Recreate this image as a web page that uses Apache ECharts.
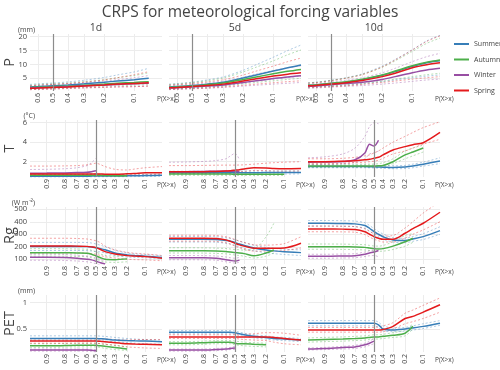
<!DOCTYPE html>
<html><head><meta charset="utf-8">
<script src="https://cdn.jsdelivr.net/npm/echarts@6/dist/echarts.min.js"></script>
<style>html,body{margin:0;padding:0;background:#fff}#c{width:500px;height:370px}</style>
</head><body><div id="c"></div><script>
const seasons = ['Summer','Autumn','Winter','Spring'];
const seasonColors = ['#377eb8','#4daf4a','#984ea3','#e41a1c'];
const leads = ['1d','5d','10d'];
const varNames = ['P','T','Rg','PET'];
const varUnits = ['(mm)','(°C)','(W m\u207B\u00B2)','(mm)'];
const chartTitle = 'CRPS for meteorological forcing variables';

// exceedance probabilities P(X>x)
const pGridP = [0.65,0.6,0.5,0.4,0.3,0.2,0.15,0.1,0.07,0.05];
const pGrid  = [0.95,0.9,0.8,0.7,0.6,0.55,0.5,0.45,0.4,0.3,0.2,0.15,0.1,0.05];
const xTicksP = [0.6,0.5,0.4,0.3,0.2,0.1];
const xTicks  = [0.9,0.8,0.7,0.6,0.5,0.4,0.3,0.2,0.1];
const pStartP = 0.65, pStart = 0.95, pEnd = 0.05, pRef = 0.5;

const yTicksP = [5,10,15,20], yRangeP = [0.42,20.97];
const yTicksT = [2,4,6], yRangeT = [0.43,6.28];
const yTicksRg = [100,200,300,400,500], yRangeRg = [62,518];
const yTicksPET = [0.5,1], yRangePET = [0.063,1.146];

const _ = '-';
// order in each: Summer, Autumn, Winter, Spring
const P_1d_mid = [[1.9,2.0,2.3,2.6,3.0,3.6,4.0,4.5,5.0,_],[1.7,1.8,2.0,2.2,2.5,2.9,3.2,3.5,3.8,_],[1.5,1.6,1.8,2.0,2.3,2.6,2.8,3.0,3.2,_],[1.4,1.5,1.7,1.9,2.2,2.6,2.9,3.1,3.4,_]];
const P_1d_hi  = [[2.8,3.0,3.3,3.7,4.3,5.3,6.2,7.3,8.6,_],[2.5,2.7,3.0,3.3,3.8,4.5,5.2,6.0,7.0,_],[2.3,2.4,2.7,3.0,3.4,4.0,4.5,5.2,6.0,_],[2.3,2.5,2.8,3.1,3.6,4.4,5.2,6.3,7.4,_]];
const P_1d_lo  = [[1.3,1.4,1.6,1.8,2.1,2.5,2.8,3.1,3.5,_],[1.1,1.2,1.4,1.6,1.8,2.1,2.3,2.5,2.7,_],[0.9,1.0,1.2,1.4,1.6,1.8,1.9,2.0,2.2,_],[0.9,1.0,1.1,1.3,1.5,1.7,1.9,2.0,2.2,_]];
const P_5d_mid = [[1.9,2.0,2.4,2.9,3.6,5.1,6.2,7.6,8.8,9.8],[1.8,1.9,2.2,2.7,3.3,4.6,5.5,6.6,7.5,8.2],[1.5,1.6,1.9,2.2,2.6,3.5,4.1,4.9,5.5,5.9],[1.6,1.7,2.0,2.4,2.9,4.0,4.8,5.8,6.5,7.0]];
const P_5d_hi  = [[2.9,3.1,3.6,4.4,5.5,7.9,9.9,12.6,15.0,17.0],[2.7,2.9,3.4,4.1,5.1,7.3,9.0,11.3,13.5,15.2],[2.3,2.5,2.8,3.3,4.0,5.4,6.5,7.8,8.8,9.5],[2.5,2.7,3.1,3.7,4.5,6.2,7.6,9.4,11.0,12.3]];
const P_5d_lo  = [[1.2,1.3,1.6,1.9,2.4,3.3,4.0,4.7,5.3,5.8],[1.1,1.2,1.5,1.8,2.2,3.0,3.5,4.1,4.6,5.0],[0.9,1.0,1.2,1.4,1.7,2.2,2.5,2.9,3.2,3.5],[1.0,1.1,1.3,1.5,1.9,2.5,2.9,3.4,3.8,4.1]];
const P_10d_mid = [[2.5,2.6,3.1,3.6,4.5,6.1,7.4,9.3,10.6,11.3],[2.5,2.6,3.2,3.8,4.7,6.2,7.6,9.5,10.8,11.6],[2.1,2.2,2.7,3.1,3.6,4.6,5.6,7.0,8.0,8.6],[2.3,2.4,2.9,3.4,4.2,5.6,6.8,8.8,9.9,10.6]];
const P_10d_hi  = [[3.4,3.6,4.3,5.2,6.6,9.4,11.8,15.3,18.5,20.5],[3.3,3.5,4.2,5.1,6.4,9.0,11.3,14.7,17.6,19.5],[2.9,3.1,3.7,4.3,5.2,7.0,8.6,11.0,12.8,14.0],[3.2,3.4,4.1,5.0,6.3,9.1,11.6,15.2,18.3,20.3]];
const P_10d_lo  = [[1.8,1.9,2.2,2.5,3.0,3.8,4.4,5.2,5.8,6.2],[1.8,1.9,2.3,2.7,3.2,4.0,4.7,5.6,6.3,6.8],[1.4,1.5,1.8,2.1,2.4,2.9,3.3,3.9,4.4,4.7],[1.6,1.7,2.0,2.3,2.8,3.5,4.0,4.7,5.2,5.6]];

const T_1d_mid = [[0.5,0.5,0.5,0.51,0.51,0.52,0.52,0.52,0.53,0.54,0.55,0.56,0.58,0.6],[0.6,0.6,0.6,0.6,0.6,0.6,0.6,0.6,0.59,0.57,0.56,_,_,_],[0.82,0.83,0.85,0.88,0.92,0.98,1.08,_,_,_,_,_,_,_],[0.75,0.75,0.75,0.75,0.75,0.75,0.74,0.73,0.72,0.72,0.76,0.8,0.86,0.87]];
const T_1d_hi  = [[0.6,0.6,0.6,0.61,0.61,0.62,0.62,0.62,0.63,0.65,0.66,0.68,0.7,0.75],[0.72,0.72,0.72,0.72,0.72,0.72,0.72,0.72,0.7,0.68,0.67,_,_,_],[1.2,1.22,1.28,1.38,1.6,1.9,2.35,_,_,_,_,_,_,_],[1.55,1.55,1.57,1.6,1.68,1.75,1.85,1.7,1.5,1.22,1.15,1.25,1.38,1.5]];
const T_1d_lo  = [[0.42,0.42,0.42,0.43,0.43,0.44,0.44,0.44,0.45,0.45,0.46,0.47,0.48,0.5],[0.5,0.5,0.5,0.5,0.5,0.5,0.5,0.5,0.49,0.48,0.47,_,_,_],[0.62,0.63,0.65,0.67,0.7,0.74,0.8,_,_,_,_,_,_,_],[0.58,0.58,0.58,0.58,0.58,0.58,0.57,0.56,0.55,0.55,0.57,0.6,0.65,0.67]];
const T_5d_mid = [[0.86,0.86,0.86,0.86,0.87,0.87,0.87,0.87,0.87,0.87,0.88,0.88,0.88,0.9],[0.73,0.73,0.73,0.73,0.73,0.73,0.72,0.72,0.72,0.72,0.72,0.72,0.72,_],[0.97,0.98,1.0,1.02,1.04,1.03,1.0,0.97,_,_,_,_,_,_],[0.97,0.97,0.98,1.0,1.04,1.08,1.13,1.18,1.25,1.38,1.35,1.3,1.28,1.3]];
const T_5d_hi  = [[1.02,1.02,1.02,1.02,1.03,1.03,1.03,1.03,1.03,1.03,1.04,1.04,1.04,1.05],[0.88,0.88,0.88,0.88,0.88,0.88,0.87,0.87,0.87,0.87,0.87,0.87,0.87,_],[1.94,1.97,2.03,2.12,2.3,2.6,2.86,2.2,_,_,_,_,_,_],[1.6,1.6,1.62,1.64,1.65,1.65,1.65,1.66,1.68,1.75,1.85,1.9,1.95,2.0]];
const T_5d_lo  = [[0.72,0.72,0.72,0.72,0.72,0.72,0.72,0.72,0.72,0.72,0.73,0.73,0.73,0.75],[0.6,0.6,0.6,0.6,0.6,0.6,0.59,0.59,0.59,0.59,0.59,0.59,0.59,_],[0.8,0.8,0.82,0.84,0.85,0.84,0.82,0.8,_,_,_,_,_,_],[0.8,0.8,0.8,0.82,0.85,0.88,0.92,0.96,1.0,1.1,1.08,1.05,1.03,1.05]];
const T_10d_mid = [[1.5,1.5,1.5,1.5,1.5,1.49,1.48,1.46,1.44,1.4,1.45,1.55,1.75,2.07],[1.56,1.56,1.56,1.56,1.56,1.56,1.56,1.58,1.62,2.0,2.7,3.0,3.4,_],[1.95,1.97,2.02,2.2,2.9,3.8,3.6,4.2,_,_,_,_,_,_],[2.0,2.0,2.05,2.1,2.2,2.25,2.35,2.45,2.7,3.2,3.55,3.75,3.95,5.0]];
const T_10d_hi  = [[1.65,1.65,1.65,1.65,1.65,1.64,1.63,1.62,1.6,1.58,1.62,1.75,1.95,2.4],[1.75,1.75,1.75,1.75,1.75,1.75,1.76,1.8,1.9,2.3,3.1,3.4,3.7,_],[2.4,2.5,2.8,3.4,4.6,5.6,6.0,5.9,_,_,_,_,_,_],[2.3,2.3,2.35,2.45,2.6,2.7,2.9,3.1,3.4,4.0,4.6,5.0,5.5,6.1]];
const T_10d_lo  = [[1.38,1.38,1.38,1.38,1.38,1.37,1.36,1.34,1.32,1.28,1.3,1.38,1.55,1.8],[1.42,1.42,1.42,1.42,1.42,1.42,1.42,1.43,1.45,1.8,2.3,2.6,3.0,_],[1.7,1.7,1.8,1.95,2.3,2.8,2.9,3.1,_,_,_,_,_,_],[1.8,1.8,1.85,1.9,1.95,2.0,2.05,2.15,2.35,2.8,3.1,3.4,3.8,4.3]];

const Rg_1d_mid = [[202,202,202,202,201,198,192,185,176,150,135,130,125,115],[153,153,152,150,148,140,126,112,100,97,103,_,_,_],[116,116,114,108,100,95,84,72,62,_,_,_,_,_],[206,206,206,205,203,199,193,178,161,142,129,125,121,108]];
const Rg_1d_hi  = [[235,235,235,235,234,230,222,212,200,172,150,143,138,128],[185,185,184,182,180,172,158,142,130,125,130,_,_,_],[140,140,138,132,125,120,110,98,88,_,_,_,_,_],[268,268,268,266,262,256,248,232,205,175,155,148,142,130]];
const Rg_1d_lo  = [[170,170,170,170,169,166,162,158,152,130,118,115,112,102],[125,125,124,122,120,112,100,88,78,75,80,_,_,_],[92,92,90,86,80,74,64,55,45,_,_,_,_,_],[150,150,150,150,148,145,140,130,120,110,100,97,95,88]];
const Rg_5d_mid = [[260,260,260,258,250,245,233,222,210,190,174,167,160,153],[169,169,168,166,162,158,153,150,145,128,150,174,_,_],[113,113,112,108,96,90,86,93,_,_,_,_,_,_],[268,268,268,266,255,243,228,215,205,188,188,188,190,228]];
const Rg_5d_hi  = [[282,282,282,280,272,266,255,245,233,212,195,188,180,175],[192,192,191,189,186,182,178,176,172,180,280,388,_,_],[130,130,129,126,118,112,108,115,_,_,_,_,_,_],[292,292,292,290,280,270,258,245,235,215,213,215,225,280]];
const Rg_5d_lo  = [[238,238,238,236,228,222,212,200,188,168,152,145,138,130],[150,150,149,147,143,139,134,130,124,110,125,150,_,_],[96,96,95,92,80,74,70,76,_,_,_,_,_,_],[245,245,245,243,232,220,205,192,180,165,165,165,170,190]];
const Rg_10d_mid = [[388,388,386,383,370,348,321,300,280,254,250,262,281,329],[201,201,200,198,195,190,185,183,185,205,240,268,_,_],[124,124,126,128,140,150,158,170,_,_,_,_,_,_],[342,342,341,338,320,300,281,268,260,260,308,345,388,476]];
const Rg_10d_hi  = [[410,410,408,405,392,370,345,322,302,272,268,282,305,360],[222,222,221,219,216,211,206,205,210,240,290,305,_,_],[140,140,142,145,158,168,175,185,_,_,_,_,_,_],[365,365,364,361,343,323,305,292,285,290,350,400,470,560]];
const Rg_10d_lo  = [[366,366,364,361,348,326,300,280,260,238,232,244,258,300],[180,180,179,177,174,170,166,164,165,178,205,235,_,_],[108,108,110,112,122,128,130,120,_,_,_,_,_,_],[320,320,319,316,298,278,260,248,238,238,270,300,335,400]];

const PET_1d_mid = [[0.32,0.32,0.32,0.32,0.32,0.32,0.32,0.315,0.31,0.29,0.28,0.275,0.27,0.26],[0.18,0.18,0.185,0.19,0.19,0.19,0.19,0.18,0.17,0.15,0.12,_,_,_],[0.1,0.1,0.1,0.1,0.1,0.095,0.085,_,_,_,_,_,_,_],[0.27,0.27,0.27,0.27,0.27,0.27,0.27,0.265,0.26,0.24,0.22,0.215,0.21,0.2]];
const PET_1d_hi  = [[0.37,0.37,0.37,0.37,0.37,0.37,0.37,0.365,0.36,0.34,0.32,0.31,0.3,0.29],[0.22,0.22,0.225,0.23,0.23,0.23,0.23,0.22,0.21,0.19,0.16,_,_,_],[0.12,0.12,0.12,0.12,0.12,0.115,0.11,_,_,_,_,_,_,_],[0.31,0.31,0.31,0.31,0.31,0.31,0.31,0.31,0.31,0.3,0.29,0.3,0.3,0.3]];
const PET_1d_lo  = [[0.28,0.28,0.28,0.28,0.28,0.28,0.28,0.275,0.27,0.26,0.24,0.23,0.22,0.21],[0.15,0.15,0.155,0.16,0.16,0.16,0.16,0.15,0.13,0.11,0.09,_,_,_],[0.08,0.08,0.08,0.08,0.08,0.075,0.065,_,_,_,_,_,_,_],[0.23,0.23,0.23,0.23,0.23,0.23,0.23,0.22,0.21,0.19,0.16,0.15,0.14,0.13]];
const PET_5d_mid = [[0.44,0.44,0.44,0.44,0.44,0.44,0.43,0.41,0.39,0.36,0.34,0.32,0.31,0.29],[0.23,0.23,0.24,0.25,0.25,0.25,0.23,0.22,0.22,0.21,0.2,_,_,_],[0.1,0.1,0.1,0.11,0.12,0.13,0.14,_,_,_,_,_,_,_],[0.35,0.35,0.35,0.35,0.35,0.35,0.35,0.35,0.35,0.35,0.35,0.34,0.32,0.29]];
const PET_5d_hi  = [[0.47,0.47,0.47,0.47,0.47,0.47,0.46,0.44,0.42,0.39,0.37,0.35,0.34,0.32],[0.26,0.26,0.27,0.28,0.28,0.28,0.27,0.26,0.25,0.24,0.23,_,_,_],[0.12,0.12,0.12,0.13,0.14,0.15,0.17,_,_,_,_,_,_,_],[0.39,0.39,0.39,0.39,0.39,0.39,0.39,0.39,0.4,0.41,0.43,0.43,0.42,0.38]];
const PET_5d_lo  = [[0.41,0.41,0.41,0.41,0.41,0.41,0.4,0.38,0.36,0.33,0.31,0.29,0.28,0.26],[0.2,0.2,0.21,0.22,0.22,0.22,0.2,0.19,0.18,0.17,0.16,_,_,_],[0.08,0.08,0.08,0.09,0.1,0.11,0.11,_,_,_,_,_,_,_],[0.32,0.32,0.32,0.32,0.32,0.32,0.32,0.31,0.3,0.29,0.28,0.25,0.22,0.2]];
const PET_10d_mid = [[0.61,0.61,0.61,0.61,0.61,0.61,0.61,0.58,0.5,0.48,0.5,0.52,0.55,0.61],[0.29,0.3,0.31,0.32,0.33,0.34,0.35,0.35,0.36,0.38,0.42,0.55,_,_],[0.12,0.13,0.15,0.16,0.2,0.23,0.27,_,_,_,_,_,_,_],[0.48,0.48,0.48,0.48,0.48,0.48,0.48,0.48,0.49,0.55,0.7,0.74,0.82,0.96]];
const PET_10d_hi  = [[0.66,0.66,0.66,0.66,0.66,0.66,0.66,0.63,0.56,0.52,0.53,0.56,0.6,0.66],[0.33,0.34,0.35,0.36,0.37,0.38,0.39,0.39,0.4,0.43,0.48,0.6,_,_],[0.14,0.15,0.17,0.19,0.23,0.27,0.32,_,_,_,_,_,_,_],[0.53,0.53,0.53,0.53,0.53,0.53,0.53,0.54,0.56,0.62,0.8,0.86,0.95,1.09]];
const PET_10d_lo  = [[0.56,0.56,0.56,0.56,0.56,0.56,0.56,0.53,0.46,0.45,0.46,0.48,0.51,0.57],[0.25,0.26,0.27,0.28,0.29,0.3,0.31,0.31,0.32,0.34,0.37,0.5,_,_],[0.1,0.11,0.12,0.13,0.16,0.19,0.22,_,_,_,_,_,_,_],[0.44,0.44,0.44,0.44,0.44,0.44,0.44,0.44,0.45,0.5,0.6,0.64,0.7,0.82]];

// ---------- layout ----------
const colLeft = [30,169,308], plotW = 132;
const rowTop = [34,120,207,295], plotH = 57;
const textColor = '#444';
const FONT = 'Open Sans';

const xOf = p => Math.log((1 - p) / p);
const pOf = x => 1 / (1 + Math.exp(x));

const rows = [
  {p:pGridP, ticks:xTicksP, start:pStartP, yr:yRangeP, yt:yTicksP, panels:[[P_1d_mid,P_1d_lo,P_1d_hi],[P_5d_mid,P_5d_lo,P_5d_hi],[P_10d_mid,P_10d_lo,P_10d_hi]]},
  {p:pGrid, ticks:xTicks, start:pStart, yr:yRangeT, yt:yTicksT, panels:[[T_1d_mid,T_1d_lo,T_1d_hi],[T_5d_mid,T_5d_lo,T_5d_hi],[T_10d_mid,T_10d_lo,T_10d_hi]]},
  {p:pGrid, ticks:xTicks, start:pStart, yr:yRangeRg, yt:yTicksRg, panels:[[Rg_1d_mid,Rg_1d_lo,Rg_1d_hi],[Rg_5d_mid,Rg_5d_lo,Rg_5d_hi],[Rg_10d_mid,Rg_10d_lo,Rg_10d_hi]]},
  {p:pGrid, ticks:xTicks, start:pStart, yr:yRangePET, yt:yTicksPET, panels:[[PET_1d_mid,PET_1d_lo,PET_1d_hi],[PET_5d_mid,PET_5d_lo,PET_5d_hi],[PET_10d_mid,PET_10d_lo,PET_10d_hi]]}
];

const grid = [], xAxis = [], yAxis = [], series = [], graphic = [];
rows.forEach((row, r) => {
  leads.forEach((lead, c) => {
    const gi = r * 3 + c;
    grid.push({left: colLeft[c], top: rowTop[r], width: plotW, height: plotH});
    const xt = row.ticks.map(xOf);
    xAxis.push({
      gridIndex: gi, type: 'value', min: xOf(row.start), max: xOf(pEnd),
      name: 'P(X>x)', nameLocation: 'end', nameGap: -5,
      nameTextStyle: {fontSize: 6.5, color: textColor, verticalAlign: 'top', align: 'left', padding: [5, 0, 0, 0]},
      axisLine: {show: false},
      axisTick: {show: false, customValues: xt},
      axisLabel: {customValues: xt, rotate: 90, fontSize: 7, color: textColor, margin: 2,
                  formatter: v => pOf(v).toFixed(1)},
      splitLine: {show: true, lineStyle: {color: '#ececec', width: 1}}
    });
    yAxis.push({
      gridIndex: gi, type: 'value', min: row.yr[0], max: row.yr[1],
      axisLine: {show: false},
      axisTick: {show: false, customValues: row.yt},
      axisLabel: {show: c === 0, customValues: row.yt, fontSize: 7.5, color: textColor, margin: 3},
      splitLine: {show: true, lineStyle: {color: '#ececec', width: 1}}
    });
    const [mid, lo, hi] = row.panels[c];
    const toData = arr => row.p.map((p, i) => [xOf(p), arr[i]]);
    seasons.forEach((s, k) => {
      [lo, hi].forEach(band => {
        series.push({
          type: 'line', name: s + ' range', xAxisIndex: gi, yAxisIndex: gi,
          data: toData(band[k]), showSymbol: false, silent: true, smooth: 0.3, z: 2,
          lineStyle: {color: seasonColors[k], width: 1, type: [2, 2], opacity: 0.4}
        });
      });
    });
    seasons.forEach((s, k) => {
      const sr = {
        type: 'line', name: s, xAxisIndex: gi, yAxisIndex: gi, color: seasonColors[k],
        data: toData(mid[k]), showSymbol: false, silent: true, smooth: 0.3, z: 3,
        lineStyle: {color: seasonColors[k], width: 1.5}
      };
      if (k === 0) {
        sr.markLine = {silent: true, symbol: 'none', label: {show: false},
          lineStyle: {color: '#8c8c8c', width: 1.2, type: 'solid'},
          data: [{xAxis: xOf(pRef)}]};
      }
      series.push(sr);
    });
    if (r === 0) {
      graphic.push({type: 'text', x: colLeft[c] + plotW / 2, y: 28,
        style: {text: lead, fontSize: 10.5, fill: textColor, align: 'center', verticalAlign: 'middle', fontFamily: FONT}});
    }
  });
  graphic.push({type: 'text', x: 10, y: rowTop[r] + plotH / 2, rotation: Math.PI / 2,
    style: {text: varNames[r], fontSize: 14.5, fill: textColor, align: 'center', verticalAlign: 'middle', fontFamily: FONT}});
  graphic.push({type: 'text', x: 35, y: rowTop[r] - 4,
    style: {text: varUnits[r], fontSize: 7, fill: textColor, align: 'right', verticalAlign: 'middle', fontFamily: FONT}});
});
graphic.push({type: 'text', x: 250, y: 13,
  style: {text: chartTitle, fontSize: 15.5, fill: textColor, align: 'center', verticalAlign: 'middle', fontFamily: FONT}});

const chart = echarts.init(document.getElementById('c'), null, {renderer: 'canvas'});
chart.setOption({
  animation: false,
  backgroundColor: '#fff',
  textStyle: {fontFamily: FONT},
  legend: {data: seasons, orient: 'vertical', left: 449, top: 34, icon: 'rect', itemWidth: 15, itemHeight: 2,
           itemGap: 5.5, textStyle: {fontSize: 7, color: textColor, lineHeight: 10}},
  grid, xAxis, yAxis, series, graphic
});
</script></body></html>
